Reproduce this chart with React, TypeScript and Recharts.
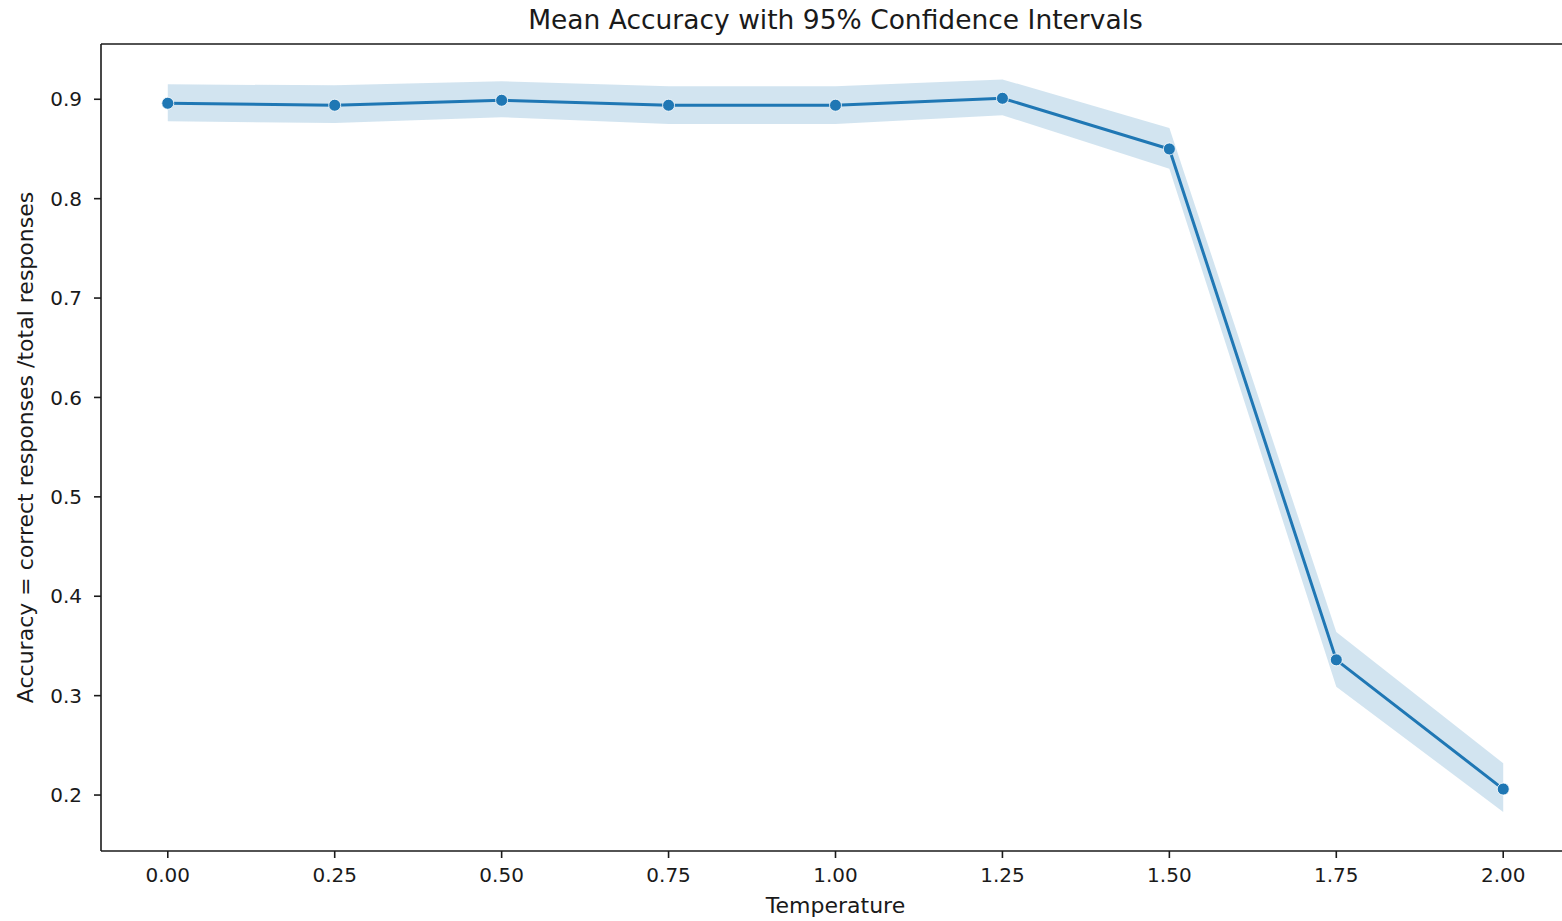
import React from "react";
import {
  ComposedChart,
  Line,
  Area,
  XAxis,
  YAxis,
  ReferenceLine,
  Label,
} from "recharts";

const temperatures = [0, 0.25, 0.5, 0.75, 1.0, 1.25, 1.5, 1.75, 2.0];
const meanAccuracy = [0.896, 0.894, 0.899, 0.894, 0.894, 0.901, 0.85, 0.336, 0.206];
const ciLower = [0.878, 0.876, 0.882, 0.875, 0.875, 0.884, 0.83, 0.309, 0.183];
const ciUpper = [0.915, 0.914, 0.918, 0.913, 0.913, 0.92, 0.871, 0.364, 0.232];

const xTicks = [0, 0.25, 0.5, 0.75, 1.0, 1.25, 1.5, 1.75, 2.0];
const yTicks = [0.2, 0.3, 0.4, 0.5, 0.6, 0.7, 0.8, 0.9];
const X_DOMAIN: [number, number] = [-0.1, 2.1];
const Y_DOMAIN: [number, number] = [0.1437, 0.9556];

const TITLE = "Mean Accuracy with 95% Confidence Intervals";
const X_LABEL = "Temperature";
const Y_LABEL = "Accuracy = correct responses /total responses";

const data = temperatures.map((t, i) => ({
  t,
  mean: meanAccuracy[i],
  ci: [ciLower[i], ciUpper[i]],
}));

const FONT = "'DejaVu Sans', sans-serif";
const TEXT = "#1a1a1a";
const SPINE = "#1a1a1a";
const BLUE = "#1f77b4";

export default function App() {
  return (
    <div
      style={{
        position: "absolute",
        left: 0,
        top: 0,
        width: 1562,
        height: 921,
        overflow: "hidden",
        background: "#ffffff",
      }}
    >
      <ComposedChart
        width={1580}
        height={921}
        data={data}
        margin={{ top: 44, right: 10, bottom: 0, left: 0 }}
        style={{ fontFamily: FONT }}
      >
        <XAxis
          dataKey="t"
          type="number"
          domain={X_DOMAIN}
          ticks={xTicks}
          allowDataOverflow
          tickFormatter={(v: number) => v.toFixed(2)}
          height={70}
          tickSize={7}
          tickMargin={10}
          tick={{ fontSize: 20, fill: TEXT, fontFamily: FONT }}
          axisLine={{ stroke: SPINE, strokeWidth: 1.6 }}
          tickLine={{ stroke: SPINE, strokeWidth: 1.6 }}
        >
          <Label
            value={X_LABEL}
            position="insideBottom"
            offset={8}
            style={{ fontSize: 22, fill: TEXT, fontFamily: FONT }}
          />
        </XAxis>
        <YAxis
          type="number"
          domain={Y_DOMAIN}
          ticks={yTicks}
          allowDataOverflow
          tickFormatter={(v: number) => v.toFixed(1)}
          width={101}
          tickSize={7}
          tickMargin={12}
          tick={{ fontSize: 20, fill: TEXT, fontFamily: FONT }}
          axisLine={{ stroke: SPINE, strokeWidth: 1.6 }}
          tickLine={{ stroke: SPINE, strokeWidth: 1.6 }}
        />
        <ReferenceLine y={Y_DOMAIN[1]} stroke={SPINE} strokeWidth={1.6} ifOverflow="visible" />
        <Area
          dataKey="ci"
          type="linear"
          stroke="none"
          fill={BLUE}
          fillOpacity={0.2}
          isAnimationActive={false}
          activeDot={false}
        />
        <Line
          dataKey="mean"
          type="linear"
          stroke={BLUE}
          strokeWidth={3}
          dot={{ r: 6, fill: BLUE, stroke: "#ffffff", strokeWidth: 0.8 }}
          activeDot={false}
          isAnimationActive={false}
        />
        <text
          x={835.5}
          y={28.5}
          textAnchor="middle"
          style={{ fontSize: 26.5, fill: TEXT, fontFamily: FONT }}
        >
          {TITLE}
        </text>
        <text
          x={33}
          y={447.5}
          textAnchor="middle"
          transform="rotate(-90, 33, 447.5)"
          style={{ fontSize: 22, fill: TEXT, fontFamily: FONT }}
        >
          {Y_LABEL}
        </text>
      </ComposedChart>
    </div>
  );
}
